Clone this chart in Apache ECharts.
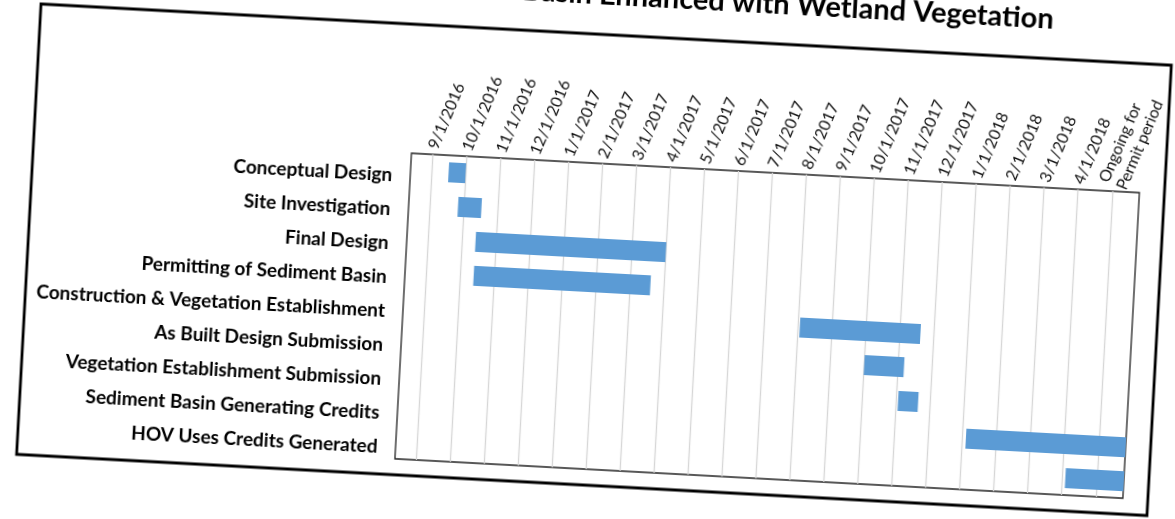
<!DOCTYPE html>
<html><head><meta charset="utf-8">
<script src="https://cdn.jsdelivr.net/npm/echarts@6/dist/echarts.min.js"></script>
<style>
html,body{margin:0;padding:0;width:1175px;height:519px;overflow:hidden;background:#fff}
#chart{position:absolute;left:1px;top:-56px;width:1200px;height:540px;transform-origin:40px 60px;transform:rotate(3.1deg)}
</style></head><body><div id="chart"></div>
<script>
// Tasks (rows, top to bottom)
const tasks = [
  'Conceptual Design',
  'Site Investigation',
  'Final Design',
  'Permitting of Sediment Basin',
  'Construction & Vegetation Establishment',
  'As Built Design Submission',
  'Vegetation Establishment Submission',
  'Sediment Basin Generating Credits',
  'HOV Uses Credits Generated'
];
// Start / end of each task, in months after 9/1/2016 (index of tick label)
const startMonths = [0.5, 0.83, 1.4, 1.4, 11.05, 13.0, 14.05, 16.1, 19.08];
const endMonths   = [1.0, 1.52, 7.0, 6.6, 14.6, 14.17, 14.64, 20.8, 20.8];
// Tick labels along the top axis
const tickLabels = [
  '9/1/2016','10/1/2016','11/1/2016','12/1/2016','1/1/2017','2/1/2017','3/1/2017',
  '4/1/2017','5/1/2017','6/1/2017','7/1/2017','8/1/2017','9/1/2017','10/1/2017',
  '11/1/2017','12/1/2017','1/1/2018','2/1/2018','3/1/2018','4/1/2018',
  'Ongoing for\nPermit period'
];
const tickPositions = tickLabels.map((_, i) => i);
const titleText = 'Sediment Basin Enhanced with Wetland Vegetation';

const durations = startMonths.map((s, i) => +(endMonths[i] - s).toFixed(3));

const chart = echarts.init(document.getElementById('chart'), null, {renderer: 'canvas'});
chart.setOption({
  animation: false,
  backgroundColor: 'transparent',
  title: {
    text: titleText,
    right: 143,
    top: 1,
    textStyle: {fontFamily: 'Lato', fontWeight: 'bold', fontSize: 29, color: '#000'}
  },
  graphic: [{
    type: 'rect',
    shape: {x: 40, y: 60, width: 1132, height: 451},
    style: {fill: 'none', stroke: '#000', lineWidth: 2.8},
    silent: true
  }],
  grid: {
    left: 418, top: 189, width: 729, height: 306,
    show: true, borderColor: '#222', borderWidth: 1.3, backgroundColor: 'transparent'
  },
  xAxis: {
    type: 'value',
    position: 'top',
    min: -0.62,
    max: 20.8,
    axisLine: {show: false},
    axisTick: {show: false, customValues: tickPositions},
    axisLabel: {
      customValues: tickPositions,
      rotate: -70,
      margin: 6,
      showMinLabel: true,
      showMaxLabel: true,
      hideOverlap: false,
      fontFamily: 'Lato',
      fontSize: 16,
      lineHeight: 19,
      color: '#111',
      formatter: v => tickLabels[Math.round(v)]
    },
    splitLine: {show: true, lineStyle: {color: '#d6d6d6', width: 1.3}}
  },
  yAxis: {
    type: 'category',
    data: tasks,
    inverse: true,
    axisLine: {show: false},
    axisTick: {show: false},
    splitLine: {show: false},
    axisLabel: {
      fontFamily: 'Lato', fontWeight: 'bold', fontSize: 19, color: '#000', margin: 18,
      verticalAlign: 'top', lineHeight: 12
    }
  },
  series: [
    {
      name: 'Start', type: 'bar', stack: 'g', data: startMonths,
      itemStyle: {color: 'transparent'}, barWidth: 20, silent: true
    },
    {
      name: 'Duration', type: 'bar', stack: 'g', data: durations,
      itemStyle: {color: '#5b9bd5'}, barWidth: 20
    }
  ]
});
</script>
</body></html>
